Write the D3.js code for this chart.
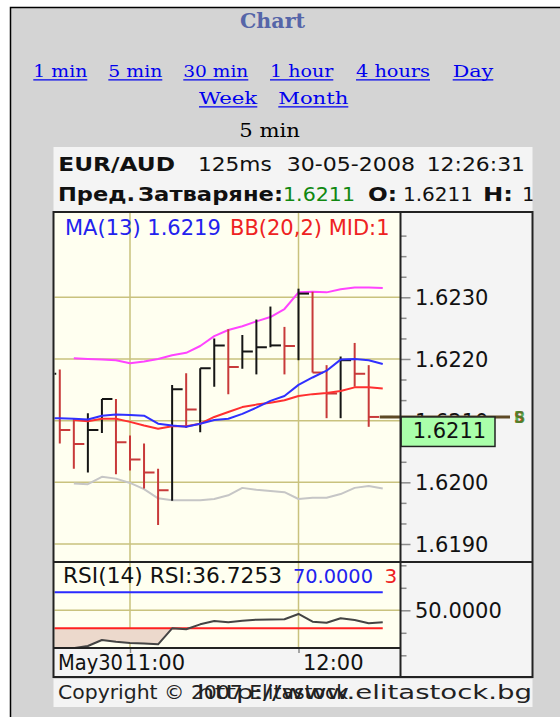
<!DOCTYPE html>
<html>
<head>
<meta charset="utf-8">
<script src="https://cdn.jsdelivr.net/npm/d3@7"></script>
<style>
  html, body { margin: 0; padding: 0; background: #fff; }
  svg { display: block; }
  text { font-family: "DejaVu Sans", Verdana, sans-serif; }
</style>
</head>
<body>
<div id="chart"></div>
<script>
// ---- data (EUR/AUD, 5 min bars) ----
const barTimes = ["10:30", "10:35", "10:40", "10:45", "10:50", "10:55", "11:00", "11:05", "11:10",
  "11:15", "11:20", "11:25", "11:30", "11:35", "11:40", "11:45", "11:50", "11:55", "12:00",
  "12:05", "12:10", "12:15", "12:20", "12:25", "12:30"];
const high = [1.62190, 1.62183, 1.62103, 1.62112, 1.62135, 1.62135, 1.62076, 1.62063, 1.62022,
  1.62158, 1.62177, 1.62185, 1.62233, 1.62248, 1.62239, 1.62264, 1.62285, 1.62252, 1.62314,
  1.62309, 1.62190, 1.62204, 1.62226, 1.62190, 1.62106];
const low = [1.62140, 1.62063, 1.62022, 1.62016, 1.62080, 1.62013, 1.62019, 1.61990, 1.61931,
  1.61970, 1.62088, 1.62081, 1.62155, 1.62143, 1.62184, 1.62175, 1.62219, 1.62175, 1.62198,
  1.62178, 1.62104, 1.62104, 1.62155, 1.62090, 1.62106];
const close = [1.62176, 1.62085, 1.62062, 1.62085, 1.62135, 1.62065, 1.62037, 1.62016, 1.61987,
  1.62151, 1.62118, 1.62185, 1.62222, 1.62187, 1.62212, 1.62219, 1.62222, 1.62221, 1.62306,
  1.62178, 1.62144, 1.62198, 1.62176, 1.62106, 1.62106];
const ma13 = [1.62104, 1.62104, 1.62103, 1.62102, 1.62108, 1.62110, 1.62109, 1.62108, 1.62095,
  1.62092, 1.62090, 1.62095, 1.62101, 1.62103, 1.62111, 1.62121, 1.62132, 1.62140, 1.62158,
  1.62170, 1.62181, 1.62199, 1.62200, 1.62198, 1.62192];
const bbUpper = [null, null, 1.62201, 1.62200, 1.62199, 1.62198, 1.62193, 1.62196, 1.62200,
  1.62206, 1.62210, 1.62221, 1.62237, 1.62247, 1.62253, 1.62261, 1.62268, 1.62281, 1.62308,
  1.62309, 1.62308, 1.62313, 1.62316, 1.62316, 1.62315];
const bbMid = [null, null, 1.62101, 1.62099, 1.62103, 1.62103, 1.62098, 1.62092, 1.62087,
  1.62091, 1.62091, 1.62095, 1.62106, 1.62114, 1.62122, 1.62126, 1.62129, 1.62133, 1.62140,
  1.62143, 1.62145, 1.62148, 1.62154, 1.62154, 1.62152];
const bbLower = [null, null, 1.61998, 1.61997, 1.62009, 1.62006, 1.61999, 1.61989, 1.61974,
  1.61971, 1.61971, 1.61971, 1.61973, 1.61979, 1.61991, 1.61988, 1.61986, 1.61984, 1.61973,
  1.61975, 1.61975, 1.61981, 1.61991, 1.61994, 1.61990];
const rsi = [6, 7, 8, 10.3, 17, 15.1, 13.7, 13, 12.2, 30, 28.9, 34.4, 38.1, 36.7, 38.4, 39.6,
  39.8, 40, 45.9, 37.3, 36.2, 41.1, 39.2, 35.6, 36.7253];

const priceTicks = [1.6190, 1.6200, 1.6210, 1.6220, 1.6230];
const rsiTicks = [0, 25, 50, 75, 100];
const rsiLabelTicks = [50];
const rsiLevels = [70, 30];
const timeTicks = ["11:00", "12:00"];
const dateLabel = "May30";

const periods = ["1 min", "5 min", "30 min", "1 hour", "4 hours", "Day", "Week", "Month"];
const currentPeriod = "5 min";

// ---- layout ----
const W = 560, H = 717;
const L = 53.5, R = 532.5, DIV = 400.5;
const plotTop = 212, plotBot = 562, rsiBot = 648, axisBot = 677;

const svg = d3.select("#chart").append("svg").attr("width", W).attr("height", H);
const defs = svg.append("defs");
defs.append("clipPath").attr("id", "clipMain").append("rect")
  .attr("x", L + 1).attr("y", plotTop + 1).attr("width", DIV - L - 1.5).attr("height", plotBot - plotTop - 2);
defs.append("clipPath").attr("id", "clipRsi").append("rect")
  .attr("x", L + 1).attr("y", plotBot + 1).attr("width", DIV - L - 1.5).attr("height", rsiBot - plotBot - 2);
defs.append("clipPath").attr("id", "clipHead").append("rect")
  .attr("x", L).attr("y", 147).attr("width", R - L).attr("height", 64);
// captions are cut a little before the panel edge, as in the source chart
defs.append("clipPath").attr("id", "clipCap").append("rect")
  .attr("x", L).attr("y", plotTop).attr("width", 390.5 - L).attr("height", plotBot - plotTop);
defs.append("clipPath").attr("id", "clipRcap").append("rect")
  .attr("x", L).attr("y", plotBot).attr("width", 398 - L).attr("height", rsiBot - plotBot);

// page background
svg.append("rect").attr("x", 10.5).attr("y", 7.5).attr("width", 600).attr("height", 720)
  .attr("fill", "#d4d4d4").attr("stroke", "#000").attr("stroke-width", 1.5);

// title + period links
svg.append("text").attr("x", 272.5).attr("y", 28).attr("text-anchor", "middle")
  .style("font-family", "'DejaVu Serif', serif").style("font-weight", "bold")
  .style("font-size", "20px").attr("fill", "#5565a8")
  .attr("textLength", 65).attr("lengthAdjust", "spacingAndGlyphs").text("Chart");

const linkPos = [[33.3, 87.3, 77], [108.3, 162.3, 77], [183.3, 248.3, 77], [270, 333.3, 77],
  [356, 430, 77], [452.7, 493.3, 77], [199, 257.3, 104], [278.3, 348.3, 104]];
periods.forEach((p, i) => {
  const [x0, x1, yb] = linkPos[i];
  svg.append("text").attr("x", x0).attr("y", yb)
    .style("font-family", "'DejaVu Serif', serif").style("font-size", "17.5px")
    .attr("fill", "#0000ee").attr("textLength", x1 - x0).attr("lengthAdjust", "spacingAndGlyphs")
    .text(p);
  svg.append("line").attr("x1", x0).attr("x2", x1).attr("y1", yb + 2.8).attr("y2", yb + 2.8)
    .attr("stroke", "#0000ee").attr("stroke-width", 1.3);
});
svg.append("text").attr("x", 239.3).attr("y", 137)
  .style("font-family", "'DejaVu Serif', serif").style("font-size", "18px")
  .attr("fill", "#000").attr("textLength", 60.7).attr("lengthAdjust", "spacingAndGlyphs")
  .text(currentPeriod);

// panel backgrounds
svg.append("rect").attr("x", L).attr("y", 147).attr("width", R - L).attr("height", axisBot - 147)
  .attr("fill", "#f4f4f4");
svg.append("rect").attr("x", L).attr("y", 679).attr("width", R - L).attr("height", 28)
  .attr("fill", "#f4f4f4");
svg.append("rect").attr("x", L).attr("y", plotTop).attr("width", DIV - L).attr("height", rsiBot - plotTop)
  .attr("fill", "#fffff0");

// header lines
const head = svg.append("g").attr("clip-path", "url(#clipHead)");
function chunk(g, str, x0, x1, yb, opts = {}) {
  g.append("text").attr("x", x0).attr("y", yb)
    .style("font-size", (opts.size || 20) + "px")
    .style("font-weight", opts.bold ? "bold" : "normal")
    .attr("fill", opts.color || "#111")
    .attr("textLength", x1 - x0).attr("lengthAdjust", "spacingAndGlyphs")
    .text(str);
}
chunk(head, "EUR/AUD", 58.3, 175, 171, { bold: true });
chunk(head, "125ms", 198, 271.7, 171);
chunk(head, "30-05-2008", 286.7, 415, 171);
chunk(head, "12:26:31", 426.7, 525, 171);
chunk(head, "Пред.", 58, 135, 201, { bold: true });
chunk(head, "Затваряне:", 138, 283, 201, { bold: true });
chunk(head, close[close.length - 1].toFixed(4), 283, 355, 201, { color: "#118811" });
chunk(head, "O:", 368, 397, 201, { bold: true });
chunk(head, close[close.length - 1].toFixed(4), 403, 473, 201);
chunk(head, "H:", 483, 513, 201, { bold: true });
chunk(head, d3.max(high).toFixed(4), 522, 594, 201);

// ---- scales ----
const parse = d3.timeParse("%H:%M");
const tms = barTimes.map(parse);
const x = d3.scaleTime().domain([parse("11:00"), parse("12:00")]).range([130, 298.5]);
const y = d3.scaleLinear().domain([1.6190, 1.6230]).range([544, 297.3]);
const yR = d3.scaleLinear().domain([0, 100]).range([655.3, 565.3]);

const grid = "#c9c27e";

// price grid
svg.append("g").selectAll("line").data(priceTicks).join("line")
  .attr("x1", L + 1).attr("x2", DIV).attr("y1", d => y(d)).attr("y2", d => y(d))
  .attr("stroke", grid).attr("stroke-width", 1.5);
// rsi grid
svg.append("g").selectAll("line").data(rsiLabelTicks).join("line")
  .attr("x1", L + 1).attr("x2", DIV).attr("y1", d => yR(d)).attr("y2", d => yR(d))
  .attr("stroke", grid).attr("stroke-width", 1.5);
// time grid
svg.append("g").selectAll("line").data(timeTicks.map(parse)).join("line")
  .attr("x1", d => x(d)).attr("x2", d => x(d)).attr("y1", plotTop).attr("y2", rsiBot)
  .attr("stroke", grid).attr("stroke-width", 1.5);

// ---- main plot ----
const main = svg.append("g").attr("clip-path", "url(#clipMain)");
const bars = tms.map((t, i) => ({ t, h: high[i], l: low[i], c: close[i], i }));

function line(vals, color) {
  main.append("path")
    .datum(vals.map((v, i) => ({ t: tms[i], v })))
    .attr("fill", "none").attr("stroke", color).attr("stroke-width", 2)
    .attr("stroke-linejoin", "round")
    .attr("d", d3.line().defined(d => d.v != null).x(d => x(d.t)).y(d => y(d.v)));
}
line(bbUpper, "#ff44ff");
line(bbLower, "#c6c6c6");

const barColor = d => (d.i > 0 && d.c < close[d.i - 1]) ? "#c83a3a" : "#151515";
main.append("g").selectAll("line").data(bars).join("line")
  .attr("x1", d => x(d.t)).attr("x2", d => x(d.t))
  .attr("y1", d => y(d.h)).attr("y2", d => y(d.l))
  .attr("stroke", barColor).attr("stroke-width", 2);
main.append("g").selectAll("line").data(bars).join("line")
  .attr("x1", d => x(d.t)).attr("x2", d => x(d.t) + 10.5)
  .attr("y1", d => y(d.c)).attr("y2", d => y(d.c))
  .attr("stroke", barColor).attr("stroke-width", 2);

line(bbMid, "#ff3030");
line(ma13, "#3030ff");

// indicator captions
const cap = svg.append("g").attr("clip-path", "url(#clipCap)");
cap.append("text").attr("x", 65).attr("y", 235).attr("fill", "#2222ee").style("font-size", "21px")
  .text("MA(13) " + ma13[ma13.length - 1].toFixed(4));
cap.append("text").attr("x", 230).attr("y", 235).attr("fill", "#ee2222").style("font-size", "21px")
  .text("BB(20,2) MID:" + bbMid[bbMid.length - 1].toFixed(4));

// ---- right price axis ----
const axisCol = "#8a8a8a";
const minorTicks = d3.range(0, 16).map(k => +(1.6190 + k * 0.001 / 3).toFixed(6))
  .filter(v => !priceTicks.some(p => Math.abs(p - v) < 1e-7));
const yMinor = svg.append("g").attr("transform", `translate(${DIV},0)`)
  .call(d3.axisRight(y).tickValues(minorTicks).tickSize(6).tickFormat(""));
const yMajor = svg.append("g").attr("transform", `translate(${DIV},0)`)
  .call(d3.axisRight(y).tickValues(priceTicks).tickSize(10).tickPadding(4.5).tickFormat(d3.format(".4f")));
[yMinor, yMajor].forEach(g => {
  g.select(".domain").remove();
  g.selectAll(".tick line").attr("stroke", axisCol).attr("stroke-width", 1.5);
  g.selectAll(".tick text").attr("fill", "#111").style("font-size", "21px")
    .style("font-family", "'DejaVu Sans', sans-serif").attr("dy", "0.36em");
});

// current price marker
const last = close[close.length - 1];
svg.append("line").attr("x1", x(tms[tms.length - 1]) - 3).attr("x2", 510)
  .attr("y1", y(last)).attr("y2", y(last)).attr("stroke", "#5e4a26").attr("stroke-width", 3);
svg.append("text").attr("x", 514).attr("y", y(last) + 6).attr("fill", "#e02020")
  .style("font-size", "15px").style("font-weight", "bold").text("S");
svg.append("text").attr("x", 514).attr("y", y(last) + 6).attr("fill", "#2a9a2a")
  .attr("fill-opacity", 0.75).style("font-size", "15px").style("font-weight", "bold").text("B");
svg.append("rect").attr("x", DIV + 0.5).attr("y", y(last)).attr("width", 94).attr("height", 29.5)
  .attr("fill", "#aaffaa").attr("stroke", "#222").attr("stroke-width", 1.5);
svg.append("text").attr("x", 412.7).attr("y", y(last) + 21).attr("fill", "#111")
  .style("font-size", "21px").text(last.toFixed(4));

// ---- RSI panel ----
const rs = svg.append("g").attr("clip-path", "url(#clipRsi)");
const rsiData = rsi.map((v, i) => ({ t: tms[i], v }));
rs.append("path").datum(rsiData).attr("fill", "#ecd9cc")
  .attr("d", d3.area().x(d => x(d.t)).y0(yR(30)).y1(d => yR(Math.min(d.v, 30))));
rs.selectAll(".lvl").data(rsiLevels).join("line")
  .attr("x1", L).attr("x2", x(tms[tms.length - 1]))
  .attr("y1", d => yR(d)).attr("y2", d => yR(d))
  .attr("stroke", d => d > 50 ? "#2a2aff" : "#ff2020").attr("stroke-width", 2);
rs.append("path").datum(rsiData).attr("fill", "none").attr("stroke", "#444").attr("stroke-width", 2)
  .attr("stroke-linejoin", "round")
  .attr("d", d3.line().x(d => x(d.t)).y(d => yR(d.v)));
const rcap = svg.append("g").attr("clip-path", "url(#clipRcap)");
rcap.append("text").attr("x", 63).attr("y", 583).attr("fill", "#111").style("font-size", "21px")
  .attr("textLength", 219).attr("lengthAdjust", "spacingAndGlyphs")
  .text("RSI(14) RSI:" + rsi[rsi.length - 1].toFixed(4));
rcap.append("text").attr("x", 293).attr("y", 583).attr("fill", "#2222ee").style("font-size", "20px")
  .attr("textLength", 80).attr("lengthAdjust", "spacingAndGlyphs").text(rsiLevels[0].toFixed(4));
rcap.append("text").attr("x", 384.5).attr("y", 583).attr("fill", "#ee2222").style("font-size", "20px")
  .text(rsiLevels[1].toFixed(4));

const rMinor = svg.append("g").attr("transform", `translate(${DIV},0)`)
  .call(d3.axisRight(yR).tickValues(rsiTicks.filter(d => !rsiLabelTicks.includes(d))).tickSize(6).tickFormat(""));
const rMajor = svg.append("g").attr("transform", `translate(${DIV},0)`)
  .call(d3.axisRight(yR).tickValues(rsiLabelTicks).tickSize(10).tickPadding(4.5).tickFormat(d3.format(".4f")));
[rMinor, rMajor].forEach(g => {
  g.select(".domain").remove();
  g.selectAll(".tick line").attr("stroke", axisCol).attr("stroke-width", 1.5);
  g.selectAll(".tick text").attr("fill", "#111").style("font-size", "21px")
    .style("font-family", "'DejaVu Sans', sans-serif").attr("dy", "0.36em");
});

// ---- time axis ----
const xAx = svg.append("g").attr("transform", `translate(0,${rsiBot})`)
  .call(d3.axisBottom(x).tickValues(timeTicks.map(parse)).tickSize(5).tickPadding(0)
    .tickFormat(d3.timeFormat("%H:%M")));
xAx.select(".domain").remove();
xAx.selectAll(".tick line").attr("stroke", axisCol).attr("stroke-width", 1.5);
xAx.selectAll(".tick text").attr("text-anchor", "start").attr("x", (d, i) => i === 0 ? -6 : 4)
  .attr("y", 22).attr("dy", 0)
  .attr("fill", "#111").style("font-size", "21px").style("font-family", "'DejaVu Sans', sans-serif");
svg.append("text").attr("x", 58).attr("y", 670).attr("fill", "#111").style("font-size", "21px")
  .attr("textLength", 65).attr("lengthAdjust", "spacingAndGlyphs")
  .text(dateLabel);

// ---- frame ----
const fr = svg.append("g").attr("stroke", "#222").attr("stroke-width", 2).attr("fill", "none");
fr.append("rect").attr("x", L).attr("y", plotTop).attr("width", R - L).attr("height", axisBot - plotTop);
fr.append("line").attr("x1", L).attr("x2", R).attr("y1", plotBot).attr("y2", plotBot);
fr.append("line").attr("x1", L).attr("x2", DIV).attr("y1", rsiBot).attr("y2", rsiBot);
fr.append("line").attr("x1", DIV).attr("x2", DIV).attr("y1", plotTop).attr("y2", axisBot);

// ---- copyright ----
svg.append("text").attr("x", 58).attr("y", 699).attr("fill", "#222").style("font-size", "19.5px")
  .attr("textLength", 290).attr("lengthAdjust", "spacingAndGlyphs")
  .text("Copyright © 2007 Elitastock");
svg.append("text").attr("x", 532).attr("y", 699).attr("text-anchor", "end").attr("fill", "#222")
  .style("font-size", "19.5px").attr("textLength", 335).attr("lengthAdjust", "spacingAndGlyphs")
  .text("http://www.elitastock.bg");
</script>
</body>
</html>
